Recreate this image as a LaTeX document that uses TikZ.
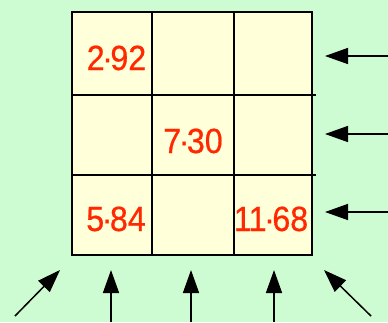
\documentclass[tikz,border=0pt]{standalone}
\usepackage{fontspec}
\setmainfont{Liberation Sans}
\newfontfamily\numfont[FakeStretch=0.92,FakeBold=0.6]{Liberation Sans}
\usetikzlibrary{arrows.meta}
\definecolor{bg}{RGB}{206,252,210}
\definecolor{cellc}{RGB}{255,255,218}
\definecolor{numc}{RGB}{255,40,0}
\newcommand{\md}{\kern-2.5pt·\kern-2.5pt}
\tikzset{
  cellbox/.style={draw=black, line width=2.5pt, fill=cellc},
  num/.style={text=numc, font=\numfont\fontsize{35}{35}\selectfont, inner sep=0pt, anchor=base},
  arr/.style={line width=1.5pt, -{Triangle[length=23pt,width=16pt]}}
}
\begin{document}
\begin{tikzpicture}[x=1pt,y=-1pt]
\fill[bg] (0,0) rectangle (388,322);
\useasboundingbox (0,0) rectangle (388,322);
% cells
\foreach \r/\ya/\yb in {1/12/95,2/95/175,3/175/255}{
  \foreach \c/\xa/\xb in {1/72/152,2/152/234,3/234/312}{
    \path[cellbox] (\xa,\ya) rectangle (\xb,\yb);
    \coordinate (c\r\c) at ({(\xa+\xb)/2},{(\ya+\yb)/2});
  }
}
\draw[line width=2.5pt] (312,95) -- (316,95) (312,175) -- (316,175);
% numbers
\node[num] (n1) at (116.5,70) {2\md92};
\node[num] (n2) at (193,153) {7\md30};
\node[num] (n3) at (116,231) {5\md84};
\node[num] (n4) at (271,231) {1\kern-3pt1\md68};
% right arrows
\coordinate (r1s) at (388,56); \coordinate (r1e) at (325,56);
\coordinate (r2s) at (388,134); \coordinate (r2e) at (325,134);
\coordinate (r3s) at (388,212); \coordinate (r3e) at (325,212);
\draw[arr] (r1s) -- (r1e);
\draw[arr] (r2s) -- (r2e);
\draw[arr] (r3s) -- (r3e);
% bottom arrows
\coordinate (b1s) at (111,322); \coordinate (b1e) at (111,270);
\coordinate (b2s) at (191,322); \coordinate (b2e) at (191,270);
\coordinate (b3s) at (274,322); \coordinate (b3e) at (274,270);
\draw[arr] (b1s) -- (b1e);
\draw[arr] (b2s) -- (b2e);
\draw[arr] (b3s) -- (b3e);
% diagonal arrows
\coordinate (d1s) at (15,316); \coordinate (d1e) at (60,270);
\coordinate (d2s) at (371,316); \coordinate (d2e) at (324,270);
\draw[arr] (d1s) -- (d1e);
\draw[arr] (d2s) -- (d2e);
\end{tikzpicture}
\end{document}
